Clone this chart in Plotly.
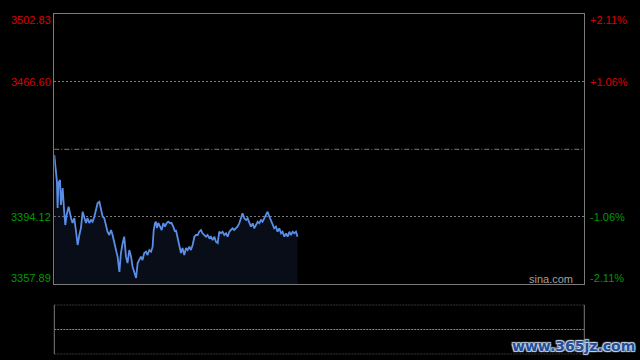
import plotly.graph_objects as go

# ---- data ----
prev_close = 3430.36
left_ticks = [3502.83, 3466.60, 3394.12, 3357.89]
right_ticks = ["+2.11%", "+1.06%", "-1.06%", "-2.11%"]
minutes = [0.0, 0.8, 1.2, 1.5, 1.9, 2.6, 3.0, 3.8, 4.1, 4.5, 5.0, 5.6, 6.5, 7.1, 7.6, 8.3,
           9.1, 9.9, 10.6, 11.4, 12.1, 12.9, 13.6, 14.4, 15.1, 15.9, 16.7, 17.4, 18.2, 19.0,
           19.7, 20.5, 21.2, 22.0, 22.7, 23.5, 24.2, 25.0, 25.8, 26.5, 27.3, 28.1, 28.8, 29.6,
           30.3, 31.1, 31.8, 32.6, 33.3, 34.1, 34.9, 35.6, 36.4, 37.2, 37.9, 38.6, 39.4, 40.1,
           40.9, 41.7, 42.4, 43.2, 44.0, 44.7, 45.2, 45.8, 46.2, 46.7, 47.3, 48.1, 48.8, 49.6,
           50.3, 51.1, 51.8, 52.6, 53.3, 54.1, 54.9, 55.3, 56.1, 56.8, 57.6, 58.3, 59.1, 59.9,
           60.6, 61.4, 62.1, 62.9, 63.7, 64.4, 65.2, 65.9, 66.7, 67.4, 68.2, 69.0, 69.7, 70.5,
           71.2, 72.0, 72.8, 73.5, 74.3, 75.0, 75.8, 76.5, 77.3, 78.1, 78.8, 79.6, 80.3, 81.1,
           81.8, 82.6, 83.3, 84.1, 84.9, 85.6, 86.4, 87.2, 87.9, 88.7, 89.4, 90.2, 90.9, 91.7,
           92.5, 93.2, 94.0, 94.7, 95.5, 96.3, 97.0, 97.8, 98.5, 99.3, 100.0, 100.8, 101.5,
           102.3, 103.1, 103.8, 104.6, 105.4, 106.1, 106.9, 107.6, 108.4, 109.1, 109.9, 110.6]
prices = [3427.30, 3418.34, 3412.97, 3398.85, 3412.27, 3413.88, 3400.46, 3409.59, 3405.83,
          3396.86, 3389.72, 3395.09, 3399.55, 3395.09, 3393.48, 3390.80, 3393.48, 3386.13,
          3378.99, 3384.35, 3388.11, 3396.86, 3394.18, 3390.80, 3393.48, 3390.80, 3392.41,
          3391.49, 3394.18, 3397.78, 3401.53, 3402.23, 3398.85, 3394.18, 3393.48, 3389.72,
          3386.13, 3384.35, 3387.04, 3384.35, 3380.60, 3376.84, 3372.55, 3364.49, 3374.69,
          3380.06, 3383.44, 3372.71, 3369.32, 3376.30, 3372.71, 3367.34, 3363.96, 3361.27,
          3369.32, 3370.93, 3372.71, 3370.93, 3374.69, 3375.39, 3373.62, 3376.30, 3375.39,
          3378.07, 3387.04, 3390.80, 3391.49, 3388.11, 3390.80, 3388.81, 3387.04, 3390.80,
          3388.81, 3390.80, 3391.49, 3390.80, 3390.80, 3388.81, 3386.13, 3387.04, 3382.74,
          3377.38, 3374.69, 3377.38, 3373.62, 3377.38, 3376.30, 3378.07, 3376.30, 3378.99,
          3383.44, 3384.35, 3384.35, 3386.13, 3387.04, 3385.27, 3384.35, 3383.44, 3384.35,
          3382.74, 3383.44, 3381.67, 3383.44, 3380.76, 3380.06, 3386.13, 3385.27, 3386.13,
          3384.35, 3385.27, 3383.44, 3386.13, 3387.04, 3387.95, 3387.04, 3387.95, 3388.81,
          3390.64, 3393.32, 3396.00, 3393.32, 3392.41, 3393.32, 3390.64, 3388.81, 3390.64,
          3387.95, 3389.72, 3391.49, 3390.64, 3392.41, 3391.49, 3393.32, 3395.09, 3396.86,
          3394.18, 3392.41, 3389.72, 3387.95, 3388.81, 3386.13, 3387.95, 3385.27, 3386.13,
          3383.44, 3385.27, 3383.44, 3386.13, 3384.35, 3386.13, 3385.27, 3386.13, 3383.44]
session_minutes = 241

W, H = 640, 360
XL, XR = 54.3, 584.3
YT, YB = 14.3, 284.3
VT, VB = 304.7, 354.3

GRID = "#7a7a7a"
RED = "#dd0000"
GREEN = "#009a00"
FONT = "Liberation Sans, Arial, sans-serif"

fig = go.Figure()
fig.add_trace(go.Scatter(
    x=minutes, y=prices, mode="lines",
    line=dict(color="#5a8ee6", width=1.8),
    fill="tozeroy", fillcolor="rgba(40,60,110,0.22)",
    hoverinfo="skip", showlegend=False))
# empty volume panel
fig.add_trace(go.Scatter(x=[], y=[], xaxis="x2", yaxis="y2", showlegend=False))

fig.update_layout(
    width=W, height=H, margin=dict(l=0, r=0, t=0, b=0),
    paper_bgcolor="black", plot_bgcolor="black",
    xaxis=dict(domain=[XL / W, XR / W], range=[0, session_minutes], showgrid=False,
               zeroline=False, showticklabels=False, ticks="",
               showline=True, linecolor=GRID, linewidth=1, mirror=True),
    yaxis=dict(domain=[1 - YB / H, 1 - YT / H], range=[left_ticks[-1], left_ticks[0]],
               tickvals=[left_ticks[1], left_ticks[2]], showticklabels=False, ticks="",
               showgrid=True, gridcolor=GRID, griddash="2px,2px", gridwidth=1,
               zeroline=False, showline=True, linecolor=GRID, linewidth=1, mirror=True),
    xaxis2=dict(domain=[XL / W, XR / W], range=[0, session_minutes], anchor="y2",
                showgrid=False, zeroline=False, showticklabels=False, ticks=""),
    yaxis2=dict(domain=[1 - VB / H, 1 - VT / H], range=[0, 2], anchor="x2",
                showgrid=False, zeroline=False, showticklabels=False, ticks=""),
)

# previous close dash-dot line
fig.add_shape(type="line", xref="x domain", yref="y", x0=0, x1=1, y0=prev_close, y1=prev_close,
              line=dict(color=GRID, width=1, dash="5px,2px,1px,2px"))

# volume panel borders
for yv in (0, 1, 2):
    fig.add_shape(type="line", xref="x2 domain", yref="y2", x0=0, x1=1, y0=yv, y1=yv,
                  line=dict(color="#8a8a8a", width=1, dash="2px,1px"))
for xv in (0, 1):
    fig.add_shape(type="line", xref="x2 domain", yref="y2", x0=xv, x1=xv, y0=0, y1=2,
                  line=dict(color=GRID, width=1))

# axis labels
shifts = [-6, 0, 0, 6]
for i, (v, pct) in enumerate(zip(left_ticks, right_ticks)):
    col = RED if v > prev_close else GREEN
    fig.add_annotation(x=52.5 / W, xref="paper", y=v, yref="y", yshift=shifts[i],
                       text=f"{v:.2f}", showarrow=False, xanchor="right", yanchor="middle",
                       font=dict(family=FONT, size=11, color=col))
    fig.add_annotation(x=587.8 / W, xref="paper", y=v, yref="y", yshift=shifts[i],
                       text=pct, showarrow=False, xanchor="left", yanchor="middle",
                       font=dict(family=FONT, size=11, color=col))

fig.add_annotation(x=575 / W, xref="paper", y=1 - 279 / H, yref="paper", text="sina.com",
                   showarrow=False, xanchor="right", yanchor="middle",
                   font=dict(family=FONT, size=11, color="#a0a0a0"))

fig.add_annotation(x=637 / W, xref="paper", y=1 - 345.5 / H, yref="paper", text="<b>www.365jz.com</b>",
                   showarrow=False, xanchor="right", yanchor="middle",
                   font=dict(family="DejaVu Sans, sans-serif", size=14, color="#1f4f99",
                             shadow="1px 1px 1px #c8d4e8, -1px -1px 1px #c8d4e8, 1px -1px 1px #c8d4e8, -1px 1px 1px #c8d4e8"))

fig.write_html("out.html")
